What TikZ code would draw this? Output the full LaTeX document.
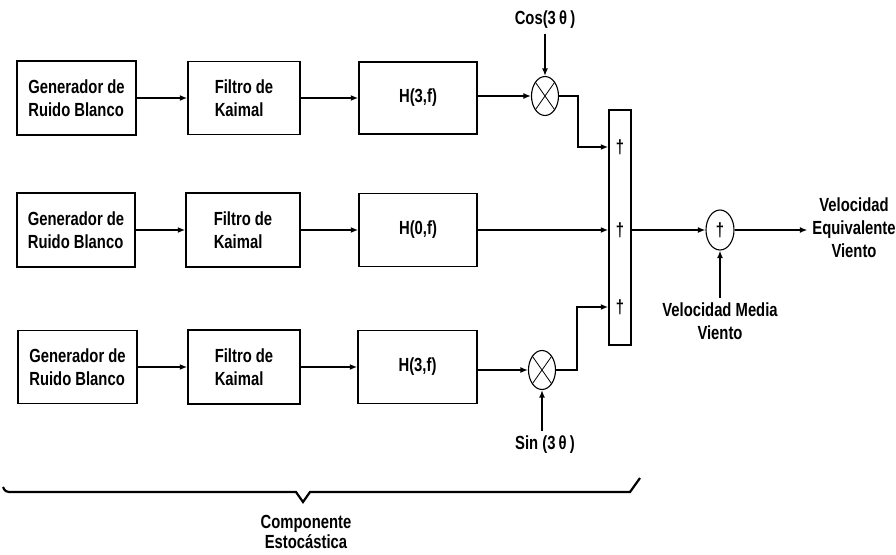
\documentclass[tikz,border=0pt]{standalone}
\usepackage{fontspec}
\setmainfont{Liberation Sans}[FakeStretch=0.78]
\usetikzlibrary{arrows.meta,shapes.geometric,calc}
\begin{document}
\begin{tikzpicture}[x=1pt,y=-1pt,
  every node/.style={font=\bfseries\fontsize{19}{23}\selectfont},
  blk/.style={draw, line width=1.5pt, align=left, inner sep=2pt},
  mult/.style={ellipse, draw, line width=1.1pt, minimum width=27pt, minimum height=39pt, inner sep=0pt},
  arr/.style={line width=1.5pt, -{Latex[length=7.5pt,width=6pt]}},
  lbl/.style={align=center, inner sep=1pt, outer sep=4pt},
  brc/.style={line width=2.2pt, line join=miter}]
\useasboundingbox (0,0) rectangle (896,554);
% row 1
\node[blk, minimum width=119pt, minimum height=74pt] (g1) at (76.5,98) {Generador de\\Ruido Blanco};
\node[blk, minimum width=112pt, minimum height=73pt] (f1) at (244,98) {Filtro de\\Kaimal};
\node[blk, minimum width=118pt, minimum height=72pt] (h1) at (418,98) {H(3,f)};
\node[mult] (m1) at (545,96) {};
\draw[line width=0.8pt] (m1.north west) -- (m1.south east) (m1.north east) -- (m1.south west);
\node[lbl] (cos) at (545,20) {Cos(3\,θ\,)};
% row 2
\node[blk, minimum width=118pt, minimum height=74pt] (g2) at (76,230) {Generador de\\Ruido Blanco};
\node[blk, minimum width=114pt, minimum height=74pt] (f2) at (243,230) {Filtro de\\Kaimal};
\node[blk, minimum width=118pt, minimum height=73pt] (h2) at (418,230) {H(0,f)};
% row 3
\node[blk, minimum width=119pt, minimum height=73pt] (g3) at (77.5,367) {Generador de\\Ruido Blanco};
\node[blk, minimum width=112pt, minimum height=74pt] (f3) at (244,367) {Filtro de\\Kaimal};
\node[blk, minimum width=119pt, minimum height=73pt] (h3) at (417.5,367) {H(3,f)};
\node[mult] (m3) at (542,370) {};
\draw[line width=0.8pt] (m3.north west) -- (m3.south east) (m3.north east) -- (m3.south west);
\node[lbl] (sin) at (545,445) {Sin (3\,θ\,)};
% summing column
\node[draw, line width=1.5pt, minimum width=22pt, minimum height=235pt, inner sep=0pt] (T) at (620,227.5) {};
\node[inner sep=0pt] (d1) at (620,147) {†};
\node[inner sep=0pt] (d2) at (620,230) {†};
\node[inner sep=0pt] (d3) at (620,307) {†};
\coordinate (k1) at (578,0);
\coordinate (k3) at (577,0);
% final sum
\node[mult, minimum width=28pt, minimum height=40pt] (S) at (720,230) {†};
\node[lbl] (out) at (854,228) {Velocidad\\Equivalente\\Viento};
\node[lbl] (media) at (720,321) {Velocidad Media\\Viento};
% connectors
\draw[arr] (g1) -- (f1);
\draw[arr] (f1) -- (h1);
\draw[arr] (h1.east |- m1) -- (m1);
\draw[arr] (cos) -- (m1);
\draw[arr] (g2) -- (f2);
\draw[arr] (f2) -- (h2);
\draw[arr] (g3) -- (f3);
\draw[arr] (f3) -- (h3);
\draw[arr] (h3.east |- m3) -- (m3);
\draw[arr] (sin.north -| m3) -- (m3);
\draw[arr] (m1) -- (m1 -| k1) |- (T.west |- d1);
\draw[arr] (h2) -- (T.west |- h2);
\draw[arr] (m3) -- (m3 -| k3) |- (T.west |- d3);
\draw[arr] (T.east |- S) -- (S);
\draw[arr] (S) -- (out.west |- S);
\draw[arr] (media.north) -- (S.south);
% brace
\coordinate (b0) at (3,487);
\coordinate (b1) at (9,492);
\coordinate (bt) at (303,502);
\coordinate (b2) at (630,492);
\coordinate (b3) at (640,478);
\draw[brc] (b0) .. controls (5,491) .. (b1) -- (296,492) -- (bt) -- (310,492) -- (b2) -- (b3);
\node[lbl, font=\bfseries\fontsize{19}{20}\selectfont] (comp) at (306,532) {Componente\\Estocástica};
\end{tikzpicture}
\end{document}
